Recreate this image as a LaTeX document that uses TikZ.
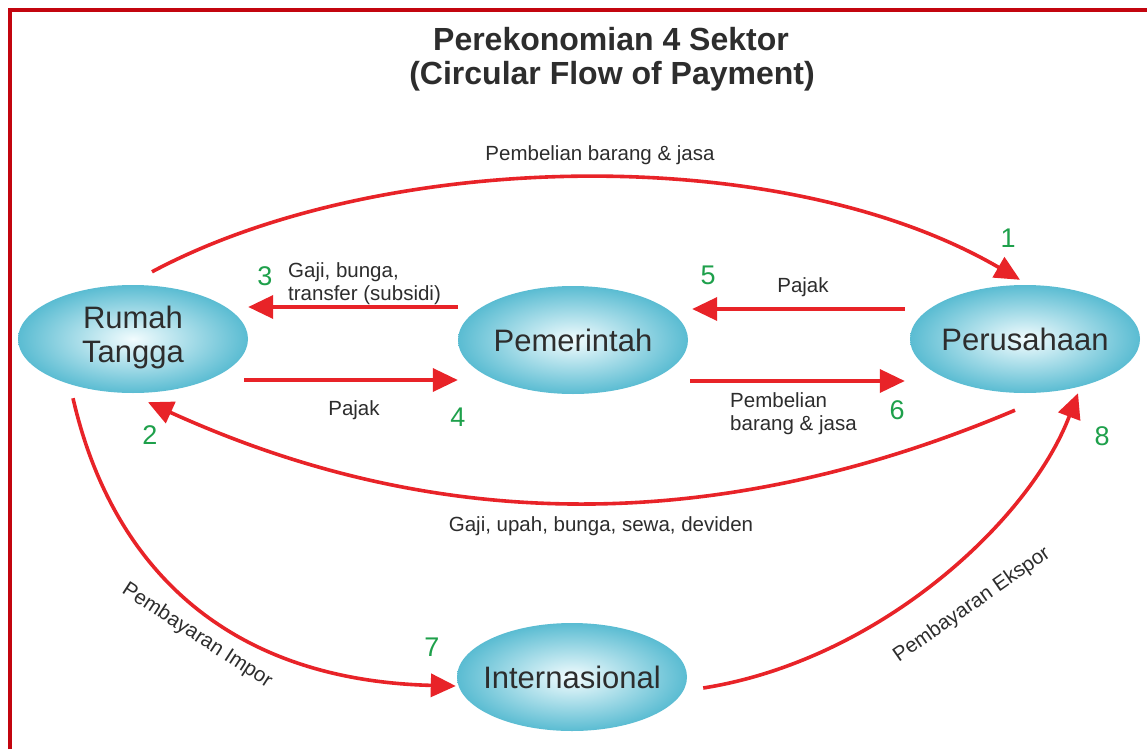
\documentclass[tikz,border=0pt]{standalone}
\usepackage{fontspec}
\setmainfont{Liberation Sans}
\usetikzlibrary{arrows.meta,shapes.geometric}
\definecolor{arrred}{RGB}{232,35,40}
\definecolor{framered}{RGB}{195,5,15}
\definecolor{numgreen}{RGB}{30,160,75}
\definecolor{txtgray}{RGB}{45,45,45}
\definecolor{ellout}{RGB}{90,188,210}
\definecolor{ellin}{RGB}{242,252,254}
\begin{document}
\begin{tikzpicture}[x=1pt,y=-1pt,
  sector/.style={ellipse, minimum width=230pt, minimum height=108pt, inner sep=0pt,
    shading=radial, inner color=ellin, outer color=ellout},
  stext/.style={font=\fontsize{31}{34}\selectfont, text=txtgray, inner sep=0pt},
  flow/.style={draw=arrred, line width=3.6pt, -{Triangle[length=25pt,width=23pt]}},
  lbl/.style={font=\fontsize{20.5}{23}\selectfont, text=txtgray, inner sep=0pt},
  num/.style={font=\fontsize{27}{27}\selectfont, text=numgreen, inner sep=0pt},
  ttl/.style={font=\fontsize{32}{36}\bfseries\selectfont, text=txtgray, inner sep=0pt}]
\useasboundingbox (0,0) rectangle (1147,749);
\fill[white] (0,0) rectangle (1147,749);
\draw[framered, line width=4pt] (9.5,749) -- (9.5,10.5) -- (1147,10.5);

% title
\node[ttl, anchor=base] (t1) at (611,51) {Perekonomian 4 Sektor};
\node[ttl, anchor=base] (t2) at (612,85) {(Circular Flow of Payment)};

% sectors
\node[sector] (rt)  at (133,339) {};
\node[sector] (pem) at (573,340) {};
\node[sector] (per) at (1025,339) {};
\node[sector] (int) at (572,677) {};
\node[stext, anchor=base] (rtA) at (133,328) {Rumah};
\node[stext, anchor=base] (rtB) at (133,362) {Tangga};
\node[stext] (pemT) at (pem.center) {Pemerintah};
\node[stext] (perT) at (per.center) {Perusahaan};
\node[stext] (intT) at (int.center) {Internasional};

% flows
\draw[flow] ([xshift=19pt,yshift=13pt]rt.north) .. controls (380,150) and (780,140) .. ([xshift=-5pt,yshift=5pt]per.north);
\draw[flow] ([xshift=-10pt,yshift=-17pt]per.south) .. controls (720,535) and (440,535) .. ([xshift=15pt,yshift=-9pt]rt.south);
\draw[flow] ([yshift=33pt]pem.west) -- ([yshift=32pt]rt.east);
\draw[flow] ([xshift=-4pt,yshift=-41pt]rt.east) -- ([yshift=-40pt]pem.west);
\draw[flow] ([xshift=-5pt,yshift=30pt]per.west) -- ([xshift=4pt,yshift=31pt]pem.east);
\draw[flow] ([xshift=2pt,yshift=-41pt]pem.east) -- ([xshift=-5pt,yshift=-42pt]per.west);
\draw[flow] ([xshift=-60pt,yshift=-5pt]rt.south) .. controls (110,560) and (220,680) .. ([xshift=-1pt,yshift=-9pt]int.west);
\draw[flow] ([xshift=16pt,yshift=-11pt]int.east) .. controls (880,660) and (1030,520) .. ([xshift=53pt]per.south);

% labels
\node[lbl, anchor=base] (l1) at (600,160) {Pembelian barang \& jasa};
\node[lbl, anchor=base] (l2) at (601,531) {Gaji, upah, bunga, sewa, deviden};
\node[lbl, anchor=base west] (l3a) at (288,277) {Gaji, bunga,};
\node[lbl, anchor=base west] (l3b) at (288,300) {transfer (subsidi)};
\node[lbl, anchor=base] (l4) at (354,415) {Pajak};
\node[lbl, anchor=base] (l5) at (803,292) {Pajak};
\node[lbl, anchor=base west] (l6a) at (730,407) {Pembelian};
\node[lbl, anchor=base west] (l6b) at (730,430) {barang \& jasa};
\node[lbl, rotate=-33] (l7) at (197,636) {Pembayaran Impor};
\node[lbl, rotate=35] (l8) at (972,605) {Pembayaran Ekspor};

% numbers
\node[num] (n1) at (1008,238) {1};
\node[num] (n2) at (150,435) {2};
\node[num] (n3) at (265,276) {3};
\node[num] (n4) at (458,417) {4};
\node[num] (n5) at (708,275) {5};
\node[num] (n6) at (897,410) {6};
\node[num] (n7) at (432,647) {7};
\node[num] (n8) at (1102,436) {8};
\end{tikzpicture}
\end{document}
